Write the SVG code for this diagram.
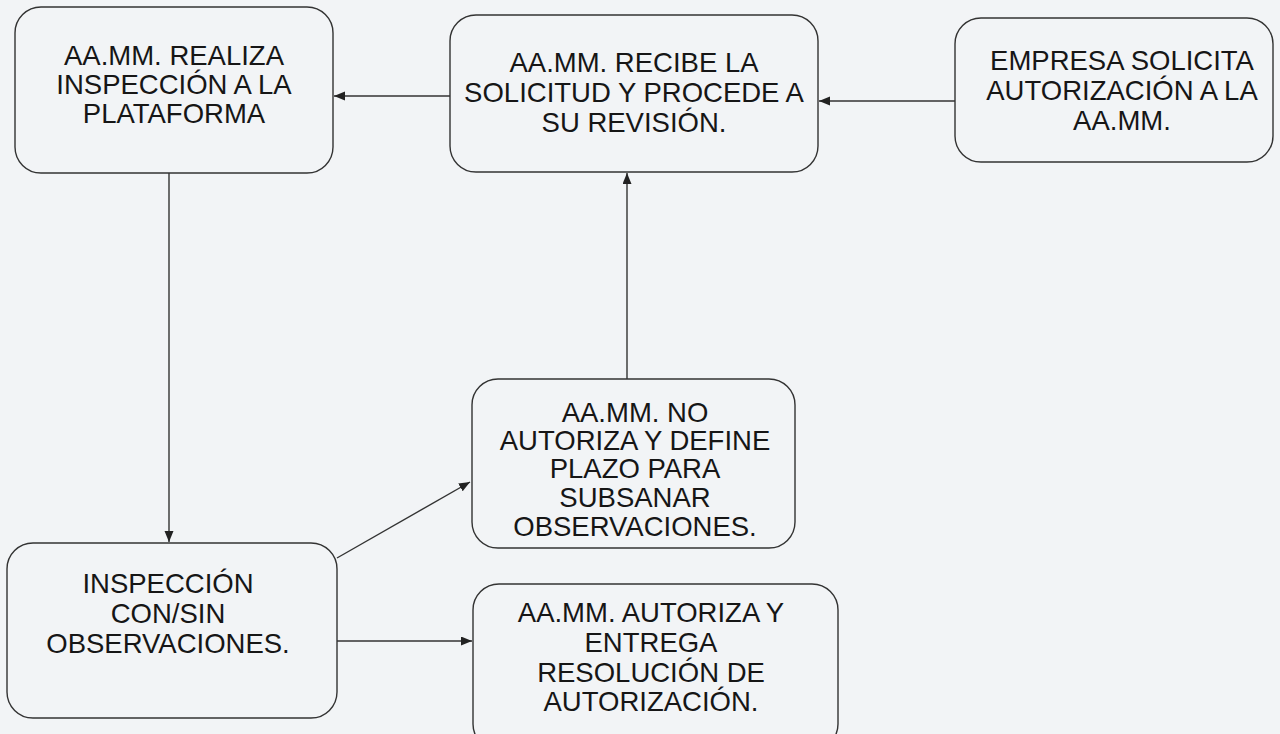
<svg xmlns="http://www.w3.org/2000/svg" width="1280" height="734" viewBox="0 0 1280 734">
<style>
.box{fill:#f2f4f6;stroke:#333;stroke-width:1.4}
.t{font-family:"Liberation Sans",Arial,sans-serif;font-size:27.5px;fill:#161616;text-anchor:middle}
.c{stroke:#333;stroke-width:1.4;fill:none;marker-end:url(#ah)}
</style>
<defs>
<marker id="ah" markerWidth="12" markerHeight="10" refX="11" refY="4.5" orient="auto" markerUnits="userSpaceOnUse">
<path d="M0,0 L11,4.5 L0,9 z" fill="#222"/>
</marker>
</defs>
<rect width="1280" height="734" fill="#f2f4f6"/>
<g id="connectors">
<line class="c" x1="450" y1="96" x2="334" y2="96"/>
<line class="c" x1="955" y1="101" x2="819" y2="101"/>
<line class="c" x1="627" y1="379" x2="627" y2="173"/>
<line class="c" x1="169" y1="173" x2="169" y2="542"/>
<line class="c" x1="337" y1="558" x2="470" y2="482"/>
<line class="c" x1="337" y1="641" x2="472" y2="641"/>
</g>
<g id="n1">
<rect class="box" x="15" y="7" width="318" height="166" rx="26"/>
<text class="t" x="174" y="65">AA.MM. REALIZA</text>
<text class="t" x="174" y="94">INSPECCIÓN A LA</text>
<text class="t" x="174" y="123">PLATAFORMA</text>
</g>
<g id="n2">
<rect class="box" x="450" y="15" width="368" height="157" rx="26"/>
<text class="t" x="634" y="72">AA.MM. RECIBE LA</text>
<text class="t" x="634" y="102">SOLICITUD Y PROCEDE A</text>
<text class="t" x="634" y="132">SU REVISIÓN.</text>
</g>
<g id="n3">
<rect class="box" x="955" y="18" width="318" height="144" rx="26"/>
<text class="t" x="1122" y="70">EMPRESA SOLICITA</text>
<text class="t" x="1122" y="100">AUTORIZACIÓN A LA</text>
<text class="t" x="1122" y="130">AA.MM.</text>
</g>
<g id="n4">
<rect class="box" x="472" y="379" width="323" height="169" rx="26"/>
<text class="t" x="635" y="422">AA.MM. NO</text>
<text class="t" x="635" y="450">AUTORIZA Y DEFINE</text>
<text class="t" x="635" y="478">PLAZO PARA</text>
<text class="t" x="635" y="507">SUBSANAR</text>
<text class="t" x="635" y="536">OBSERVACIONES.</text>
</g>
<g id="n5">
<rect class="box" x="7" y="543" width="330" height="175" rx="26"/>
<text class="t" x="168" y="593">INSPECCIÓN</text>
<text class="t" x="168" y="623">CON/SIN</text>
<text class="t" x="168" y="653">OBSERVACIONES.</text>
</g>
<g id="n6">
<rect class="box" x="473" y="584" width="365" height="166" rx="26"/>
<text class="t" x="651" y="622">AA.MM. AUTORIZA Y</text>
<text class="t" x="651" y="652">ENTREGA</text>
<text class="t" x="651" y="682">RESOLUCIÓN DE</text>
<text class="t" x="651" y="711">AUTORIZACIÓN.</text>
</g>
</svg>
